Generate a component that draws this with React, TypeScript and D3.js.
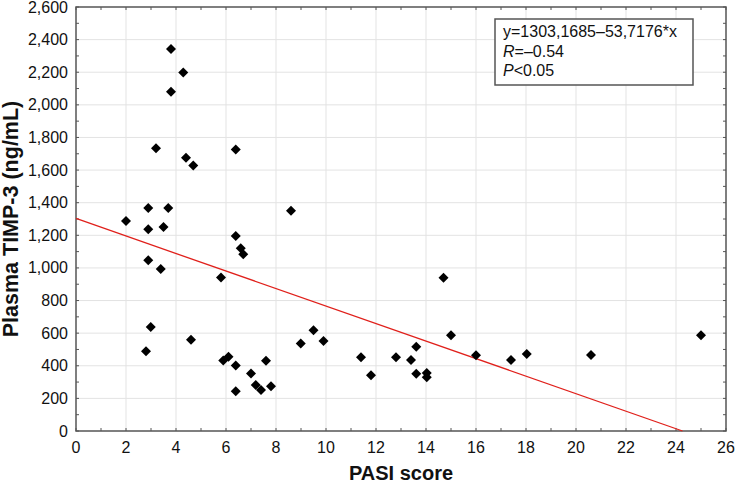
import React from "react";
import * as d3 from "d3";

const pasi: number[] = [2.0, 2.8, 2.89, 2.89, 2.89, 2.99, 3.2, 3.39, 3.5, 3.69, 3.8, 3.8, 4.29, 4.4, 4.6, 4.69, 5.8, 5.89, 6.1, 6.39, 6.39, 6.39, 6.39, 6.59, 6.69, 7.0, 7.19, 7.4, 7.6, 7.8, 8.6, 8.99, 9.5, 9.9, 11.4, 11.8, 12.8, 13.4, 13.61, 13.61, 14.03, 14.03, 14.7, 15.0, 16.0, 17.4, 18.03, 20.6, 25.0];
const timp: number[] = [1288, 489, 1368, 1237, 1047, 638, 1734, 994, 1251, 1368, 2343, 2080, 2198, 1675, 559, 1628, 941, 432, 455, 1726, 1196, 402, 243, 1121, 1084, 353, 282, 252, 431, 275, 1350, 536, 618, 552, 452, 342, 452, 435, 517, 351, 356, 330, 939, 587, 464, 435, 472, 466, 587];

const xTicks: number[] = d3.range(0, 27, 2);
const yTicks: number[] = d3.range(0, 2601, 200);
const intercept = 1303.1685;
const slope = -53.7176;
const legendLines = ["y=1303,1685–53,7176*x", "R", "P"];

const W = 736;
const H = 483;
const L = 76, R = 726, T = 7, B = 431;

export default function App() {
  const x = d3.scaleLinear().domain([0, 26]).range([L, R]);
  const y = d3.scaleLinear().domain([0, 2600]).range([B, T]);
  const fmt = d3.format(",");
  const xEnd = -intercept / slope;
  const line = d3.line<[number, number]>().x((d) => x(d[0])).y((d) => y(d[1]));
  const diamond = d3.symbol().type(d3.symbolSquare).size(50)();
  const minorX = d3.range(0, 27, 1);
  const minorY = d3.range(0, 2601, 100);
  const axisColor = "#555";
  const font = "Liberation Sans, Arial, sans-serif";
  return (
    <svg width={W} height={H} style={{ position: "absolute", left: 0, top: 0, background: "#fff" }} fontFamily={font}>
      <rect x={0} y={0} width={W} height={H} fill="#fff" />
      {xTicks.slice(1, -1).map((t) => (
        <line key={"gx" + t} x1={x(t)} x2={x(t)} y1={T} y2={B} stroke="#e3e3e3" strokeWidth={1} />
      ))}
      {yTicks.slice(1, -1).map((t) => (
        <line key={"gy" + t} x1={L} x2={R} y1={y(t)} y2={y(t)} stroke="#e3e3e3" strokeWidth={1} />
      ))}
      {minorX.map((t) => (
        <g key={"tx" + t}>
          <line x1={x(t)} x2={x(t)} y1={B} y2={B - 3} stroke={axisColor} strokeWidth={1} />
          <line x1={x(t)} x2={x(t)} y1={T} y2={T + 3} stroke={axisColor} strokeWidth={1} />
        </g>
      ))}
      {minorY.map((t) => (
        <g key={"ty" + t}>
          <line x1={L} x2={L + 3} y1={y(t)} y2={y(t)} stroke={axisColor} strokeWidth={1} />
          <line x1={R} x2={R - 3} y1={y(t)} y2={y(t)} stroke={axisColor} strokeWidth={1} />
        </g>
      ))}
      <rect x={L} y={T} width={R - L} height={B - T} fill="none" stroke={axisColor} strokeWidth={1.5} />
      <path d={line([[0, intercept], [xEnd, 0]]) || ""} stroke="#e0201b" strokeWidth={1.3} fill="none" />
      {pasi.map((v, i) => (
        <path key={"p" + i} d={diamond || ""} transform={`translate(${x(v)},${y(timp[i])}) rotate(45)`} fill="#000" />
      ))}
      {xTicks.map((t) => (
        <text key={"xl" + t} x={x(t)} y={453} fontSize={16} textAnchor="middle" fill="#111">{t}</text>
      ))}
      {yTicks.map((t) => (
        <text key={"yl" + t} x={68} y={y(t) + 5.5} fontSize={16} textAnchor="end" fill="#111">{fmt(t)}</text>
      ))}
      <text x={(L + R) / 2} y={480} fontSize={20} fontWeight="bold" textAnchor="middle" fill="#111">PASI score</text>
      <text transform={`translate(18,${(T + B) / 2}) rotate(-90)`} fontSize={21.5} fontWeight="bold" textAnchor="middle" fill="#111">Plasma TIMP-3 (ng/mL)</text>
      <rect x={495} y={19} width={198} height={66} fill="#fff" stroke={axisColor} strokeWidth={1.5} />
      <text x={503} y={36.7} fontSize={16} fill="#111">{legendLines[0]}</text>
      <text x={503} y={56.7} fontSize={16} fill="#111"><tspan fontStyle="italic">{legendLines[1]}</tspan>=–0.54</text>
      <text x={503} y={75.7} fontSize={16} fill="#111"><tspan fontStyle="italic">{legendLines[2]}</tspan>&lt;0.05</text>
    </svg>
  );
}
